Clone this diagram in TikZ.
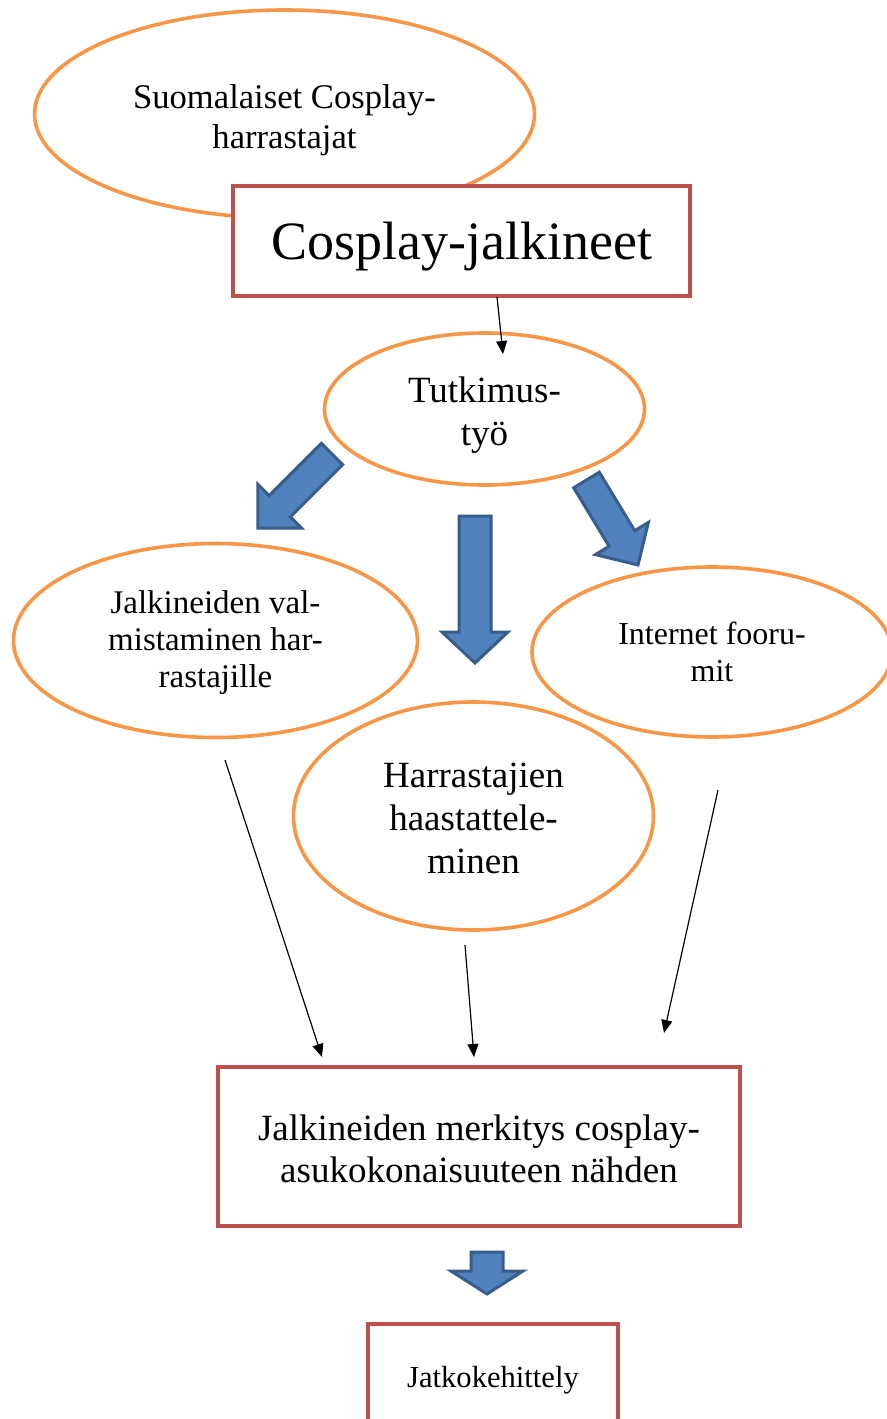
\documentclass[tikz,border=0pt]{standalone}
\usepackage{fontspec}
\setmainfont{Liberation Serif}
\usetikzlibrary{shapes.geometric,arrows.meta}
\definecolor{orng}{HTML}{F79646}
\definecolor{rd}{HTML}{C0504D}
\definecolor{blu}{HTML}{4F81BD}
\definecolor{bluedge}{HTML}{385D8A}
\newcommand\lowerby[2]{\raisebox{-#1}[\height][\depth]{\begin{tabular}{@{}c@{}}#2\end{tabular}}}
\tikzset{
 oval/.style={ellipse, draw=orng, line width=1.8pt, fill=white, inner sep=0pt, align=center},
 redbox/.style={rectangle, draw=rd, line width=2pt, fill=white, inner sep=0pt, align=center},
 thinarrow/.style={-{Triangle[length=6.5pt,width=5.5pt]}, line width=0.6pt, black},
 blockarrow/.style={fill=blu, draw=bluedge, line width=1.5pt, line join=miter},
}
\begin{document}
\begin{tikzpicture}[x=0.5pt,y=-0.5pt]
\useasboundingbox (0,0) rectangle (887,1419);
\clip (0,0) rectangle (887,1419);
% top ellipse and title
\node[oval, minimum width=250pt, minimum height=104pt, font=\fontsize{17.3}{20}\selectfont] (fans) at (284.5,114) {\lowerby{3pt}{Suomalaiset Cosplay-\\harrastajat}};
\node[redbox, minimum width=228.5pt, minimum height=55pt, font=\fontsize{27}{30}\selectfont] (title) at (461.5,241) {\lowerby{3pt}{Cosplay-jalkineet}};
% research
\node[oval, minimum width=160pt, minimum height=76pt, font=\fontsize{18.5}{21.5}\selectfont] (tutk) at (484.5,409) {\lowerby{3pt}{Tutkimus-\\työ}};
% three methods
\node[oval, minimum width=202pt, minimum height=97pt, font=\fontsize{16.5}{18.5}\selectfont] (valm) at (215.5,640.5) {\lowerby{1.5pt}{Jalkineiden val-\\mistaminen har-\\rastajille}};
\node[oval, minimum width=180pt, minimum height=85pt, font=\fontsize{16}{18.5}\selectfont] (foor) at (712,652) {Internet fooru-\\mit};
\node[oval, minimum width=180pt, minimum height=114pt, font=\fontsize{18.5}{21.5}\selectfont] (haas) at (473.5,816) {\lowerby{3pt}{Harrastajien\\haastattele-\\minen}};
% result boxes
\node[redbox, minimum width=261pt, minimum height=79.5pt, font=\fontsize{18.5}{21}\selectfont] (merk) at (479,1146.5) {\lowerby{3.5pt}{Jalkineiden merkitys cosplay-\\asukokonaisuuteen nähden}};
\node[redbox, minimum width=125pt, minimum height=53pt, font=\fontsize{15.3}{18}\selectfont] (jatko) at (493,1377) {\lowerby{1.5pt}{Jatkokehittely}};
% thin connectors
\coordinate (c1a) at (497,297);
\coordinate (c1b) at (503,354);
\coordinate (c2a) at (225,760);
\coordinate (c2b) at (322,1057);
\coordinate (c3a) at (465,945);
\coordinate (c3b) at (474,1057);
\coordinate (c4a) at (718,790);
\coordinate (c4b) at (664,1033);
\draw[thinarrow] (c1a) -- (c1b);
\draw[thinarrow] (c2a) -- (c2b);
\draw[thinarrow] (c3a) -- (c3b);
\draw[thinarrow] (c4a) -- (c4b);
% block arrows
\draw[blockarrow] (342.6,464.6) -- (321.4,443.4) -- (269.1,495.7) -- (257.8,484.4) -- (257.8,528.2) -- (301.6,528.2) -- (290.3,516.9) -- cycle;
\draw[blockarrow] (459,516) -- (491,516) -- (491,632) -- (508,632) -- (475,663) -- (442,632) -- (459,632) -- cycle;
\draw[blockarrow] (573.7,487.8) -- (599.3,472.2) -- (634.7,530.7) -- (648.4,522.4) -- (638,565) -- (595.4,554.6) -- (609.1,546.3) -- cycle;
\draw[blockarrow] (471,1252) -- (503,1252) -- (503,1271) -- (523,1271) -- (487,1294) -- (451,1271) -- (471,1271) -- cycle;
\end{tikzpicture}
\end{document}
